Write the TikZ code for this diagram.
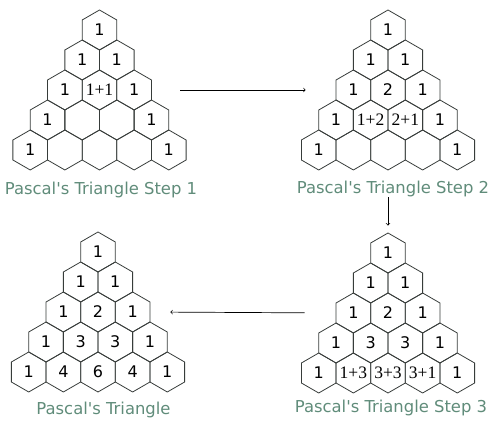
\documentclass[tikz,border=0pt]{standalone}
\usepackage{fontspec}
\setmainfont{DejaVu Sans}
\newfontfamily\sumfont{Liberation Serif}
\usetikzlibrary{shapes.geometric}

\definecolor{hexline}{RGB}{55,60,58}
\definecolor{capgreen}{RGB}{96,140,122}

\tikzset{
  hex/.style={regular polygon, regular polygon sides=6, shape border rotate=30,
    minimum size=40pt, inner sep=0pt, draw=hexline, line width=0.8pt},
  num/.style={inner sep=0pt, font=\fontsize{16}{16}\selectfont},
  caption/.style={anchor=base, text=capgreen, font=\fontsize{16.4}{16}\selectfont},
  arr/.style={->, line width=0.7pt}
}
\newcommand{\sm}[1]{{\sumfont\fontsize{17.5}{17.5}\selectfont #1}}

\begin{document}
\begin{tikzpicture}[x=1pt,y=-1pt]
\useasboundingbox (0,0) rectangle (498,427);

% Step 1 (top left)
\foreach \r/\labs in {1/{1}, 2/{1,1}, 3/{1,\sm{1+1},1}, 4/{1,{},{},1}, 5/{1,{},{},{},1}}
  \foreach \l [count=\k] in \labs
    \node[hex, label={[num]center:\l}] (a-\r-\k) at ({99.5+(\k-(\r+1)/2)*34.64},{30+(\r-1)*30}) {};
\node[caption] (c1) at (101,195) {Pascal\textquotesingle s Triangle Step 1};

% Step 2 (top right)
\foreach \r/\labs in {1/{1}, 2/{1,1}, 3/{1,2,1}, 4/{1,\sm{1+2},\sm{2+1},1}, 5/{1,{},{},{},1}}
  \foreach \l [count=\k] in \labs
    \node[hex, label={[num]center:\l}] (b-\r-\k) at ({388+(\k-(\r+1)/2)*34.64},{30+(\r-1)*30}) {};
\node[caption] (c2) at (393,194) {Pascal\textquotesingle s Triangle Step 2};

% Step 3 (bottom right)
\foreach \r/\labs in {1/{1}, 2/{1,1}, 3/{1,2,1}, 4/{1,3,3,1}, 5/{1,\sm{1+3},\sm{3+3},\sm{3+1},1}}
  \foreach \l [count=\k] in \labs
    \node[hex, label={[num]center:\l}] (c-\r-\k) at ({388+(\k-(\r+1)/2)*34.64},{253+(\r-1)*30}) {};
\node[caption] (c3) at (391,413) {Pascal\textquotesingle s Triangle Step 3};

% Result (bottom left)
\foreach \r/\labs in {1/{1}, 2/{1,1}, 3/{1,2,1}, 4/{1,3,3,1}, 5/{1,4,6,4,1}}
  \foreach \l [count=\k] in \labs
    \node[hex, label={[num]center:\l}] (d-\r-\k) at ({98+(\k-(\r+1)/2)*34.64},{252+(\r-1)*30}) {};
\node[caption] (c4) at (103.5,415) {Pascal\textquotesingle s Triangle};

% Arrows
\draw[arr, shorten <=28.5pt, shorten >=30pt] (a-3-3.east) -- (b-3-1.west);
\draw[arr, shorten <=27pt, shorten >=7pt] (b-5-3.south) -- (c-1-1.north);
\draw[arr, shorten <=31pt, shorten >=20pt] (c-3-1.west) -- (d-3-3.east);
\end{tikzpicture}
\end{document}
